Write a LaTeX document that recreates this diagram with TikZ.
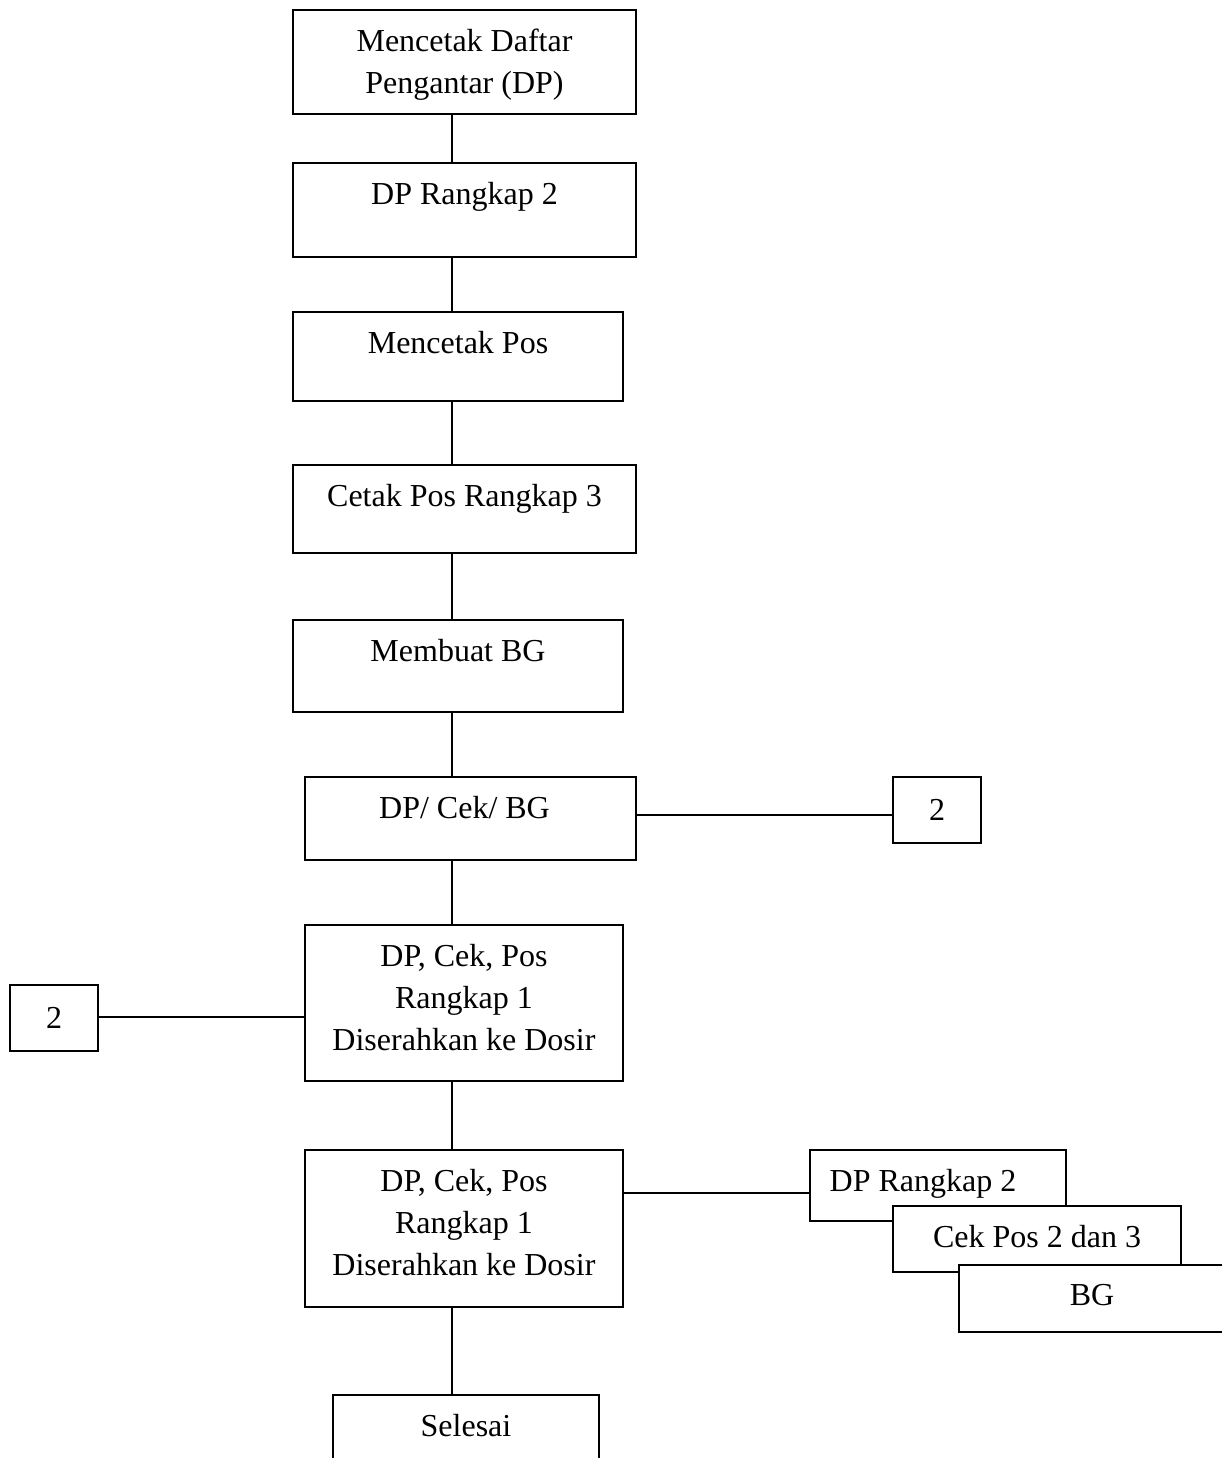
\documentclass[tikz,border=0pt]{standalone}
\usepackage{fontspec}
\setmainfont{Liberation Serif}
\begin{document}
\begin{tikzpicture}[x=1pt, y=-1pt,
  line width=1.8pt,
  every node/.style={font=\fontsize{32}{42}\selectfont},
  box/.style={draw, fill=white, anchor=north west, inner sep=0pt, outer sep=0pt},
  caption/.style={anchor=north, align=center, inner sep=0pt, yshift=-18pt},
  link/.style={line width=1.8pt}]
  \useasboundingbox (0,0) rectangle (1221,1458);
  \coordinate (spine) at (452,0);

  % main column of steps
  \node[box, minimum width=343pt, minimum height=104pt,
        label={[caption]north:Mencetak Daftar\\Pengantar (DP)}] (b1) at (293,10) {};
  \node[box, minimum width=343pt, minimum height=94pt,
        label={[caption]north:DP Rangkap 2}] (b2) at (293,163) {};
  \node[box, minimum width=330pt, minimum height=89pt,
        label={[caption]north:Mencetak Pos}] (b3) at (293,312) {};
  \node[box, minimum width=343pt, minimum height=88pt,
        label={[caption]north:Cetak Pos Rangkap 3}] (b4) at (293,465) {};
  \node[box, minimum width=330pt, minimum height=92pt,
        label={[caption]north:Membuat BG}] (b5) at (293,620) {};
  \node[box, minimum width=331pt, minimum height=83pt,
        label={[caption, xshift=-6pt]north:DP/ Cek/ BG}] (b6) at (305,777) {};
  \node[box, minimum width=318pt, minimum height=156pt,
        label={[caption]north:DP, Cek, Pos\\Rangkap 1\\Diserahkan ke Dosir}] (b7) at (305,925) {};
  \node[box, minimum width=318pt, minimum height=157pt,
        label={[caption]north:DP, Cek, Pos\\Rangkap 1\\Diserahkan ke Dosir}] (b8) at (305,1150) {};
  \node[box, minimum width=266pt, minimum height=80pt,
        label={[caption]north:Selesai}] (end) at (333,1395) {};

  % off-page connectors
  \node[box, minimum width=88pt, minimum height=66pt] (r2) at (893,777) {2};
  \node[box, minimum width=88pt, minimum height=66pt] (l2) at (10,985) {2};

  % stacked documents
  \node[box, minimum width=256pt, minimum height=71pt,
        label={[caption, xshift=-15pt]north:DP Rangkap 2}] (s1) at (810,1150) {};
  \node[box, minimum width=288pt, minimum height=66pt,
        label={[caption]north:Cek Pos 2 dan 3}] (s2) at (893,1206) {};
  \node[box, minimum width=272pt, minimum height=67pt,
        label={[caption, xshift=-3pt]north:BG}] (s3) at (959,1265) {};

  % vertical flow
  \draw[link] (b1.south -| spine) -- (b2.north -| spine);
  \draw[link] (b2.south -| spine) -- (b3.north -| spine);
  \draw[link] (b3.south -| spine) -- (b4.north -| spine);
  \draw[link] (b4.south -| spine) -- (b5.north -| spine);
  \draw[link] (b5.south -| spine) -- (b6.north -| spine);
  \draw[link] (b6.south -| spine) -- (b7.north -| spine);
  \draw[link] (b7.south -| spine) -- (b8.north -| spine);
  \draw[link] (b8.south -| spine) -- (end.north -| spine);

  % side links
  \draw[link] ([yshift=-5pt]r2.west) -- ([yshift=-5pt]r2.west -| b6.east);
  \draw[link] ([yshift=1pt]l2.east) -- ([yshift=1pt]l2.east -| b7.west);
  \draw[link] ([yshift=-7.5pt]s1.west) -- ([yshift=-7.5pt]s1.west -| b8.east);
\end{tikzpicture}
\end{document}
